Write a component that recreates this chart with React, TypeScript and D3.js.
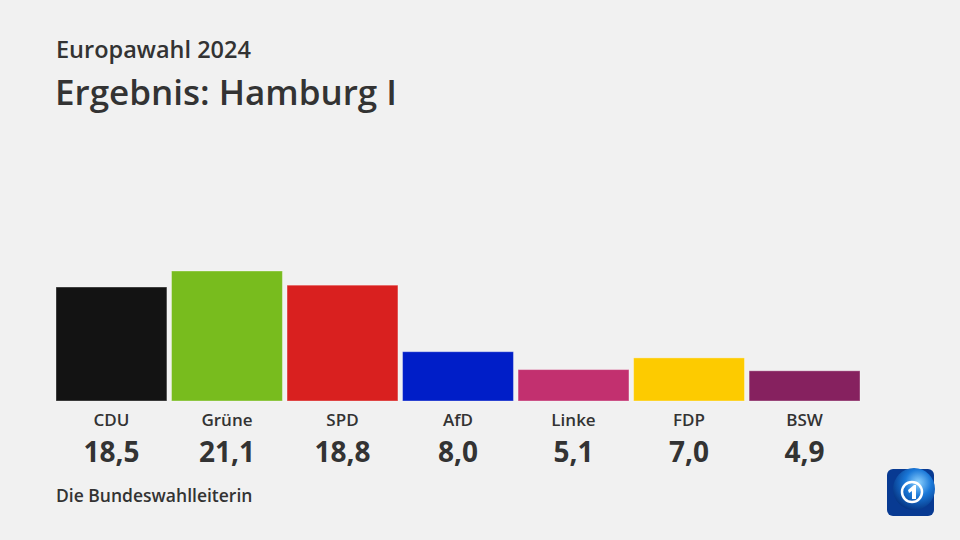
import React, { useEffect, useRef } from "react";
import * as d3 from "d3";

const parties = ["CDU", "Grüne", "SPD", "AfD", "Linke", "FDP", "BSW"];
const results = [18.5, 21.1, 18.8, 8.0, 5.1, 7.0, 4.9];
const colors = ["#131313", "#78bc1e", "#d9201f", "#001ec8", "#c2306f", "#fdcb00", "#86215f"];

const W = 960;
const H = 540;

export default function App() {
  const ref = useRef<SVGSVGElement>(null);

  useEffect(() => {
    if (!ref.current) return;
    const svg = d3.select(ref.current);
    svg.selectAll("*").remove();

    const font = "'Open Sans', 'Noto Sans', sans-serif";
    const textColor = "#333333";

    svg.append("rect").attr("width", W).attr("height", H).attr("fill", "#f1f1f1");

    svg.append("text")
      .attr("x", 56).attr("y", 58)
      .attr("font-family", font).attr("font-weight", 600)
      .attr("font-size", 23.5).attr("fill", textColor)
      .text("Europawahl 2024");

    svg.append("text")
      .attr("x", 55).attr("y", 105)
      .attr("font-family", font).attr("font-weight", 600)
      .attr("font-size", 35).attr("fill", textColor)
      .text("Ergebnis: Hamburg I");

    // bars
    const baseline = 401;
    const x = d3.scaleBand<string>()
      .domain(parties)
      .range([56, 860])
      .paddingInner(0.04)
      .paddingOuter(0);
    const y = d3.scaleLinear().domain([0, 21.1]).range([baseline, 271]);

    const data = parties.map((p, i) => ({ p, v: results[i], c: colors[i] }));

    svg.append("g").selectAll("rect")
      .data(data)
      .enter()
      .append("rect")
      .attr("x", (d) => x(d.p)!)
      .attr("y", (d) => y(d.v))
      .attr("width", x.bandwidth())
      .attr("height", (d) => baseline - y(d.v))
      .attr("fill", (d) => d.c)
      .attr("stroke", "rgba(255,255,255,0.35)")
      .attr("stroke-width", 1);

    svg.append("g").selectAll("text")
      .data(data)
      .enter()
      .append("text")
      .attr("x", (d) => x(d.p)! + x.bandwidth() / 2)
      .attr("y", 426)
      .attr("text-anchor", "middle")
      .attr("font-family", font).attr("font-weight", 600)
      .attr("font-size", 17).attr("fill", textColor)
      .text((d) => d.p);

    svg.append("g").selectAll("text")
      .data(data)
      .enter()
      .append("text")
      .attr("x", (d) => x(d.p)! + x.bandwidth() / 2)
      .attr("y", 462)
      .attr("text-anchor", "middle")
      .attr("font-family", font).attr("font-weight", 700)
      .attr("font-size", 28).attr("fill", textColor)
      .text((d) => d.v.toFixed(1).replace(".", ","));

    svg.append("text")
      .attr("x", 56).attr("y", 502)
      .attr("font-family", font).attr("font-weight", 600)
      .attr("font-size", 17.5).attr("fill", textColor)
      .text("Die Bundeswahlleiterin");

    // logo
    const defs = svg.append("defs");
    const grad = defs.append("radialGradient").attr("id", "globe")
      .attr("cx", "60%").attr("cy", "35%").attr("r", "70%");
    grad.append("stop").attr("offset", "0%").attr("stop-color", "#8fd3ff");
    grad.append("stop").attr("offset", "45%").attr("stop-color", "#1a78d8");
    grad.append("stop").attr("offset", "100%").attr("stop-color", "#04307e");

    const logo = svg.append("g").attr("transform", "translate(887,469)");
    logo.append("rect").attr("width", 47).attr("height", 47).attr("rx", 6)
      .attr("fill", "#083a92");
    logo.append("circle").attr("cx", 27).attr("cy", 20).attr("r", 21)
      .attr("fill", "url(#globe)");
    logo.append("circle").attr("cx", 25).attr("cy", 23).attr("r", 10)
      .attr("fill", "none").attr("stroke", "#ffffff").attr("stroke-width", 2.5);
    logo.append("path")
      .attr("d", "M21,21 L27,16 L29,16 L29,30 L25,30 L25,22 L22,24 Z")
      .attr("fill", "#ffffff");
  }, []);

  return (
    <svg
      ref={ref}
      width={W}
      height={H}
      style={{ position: "absolute", left: 0, top: 0, display: "block" }}
    />
  );
}
